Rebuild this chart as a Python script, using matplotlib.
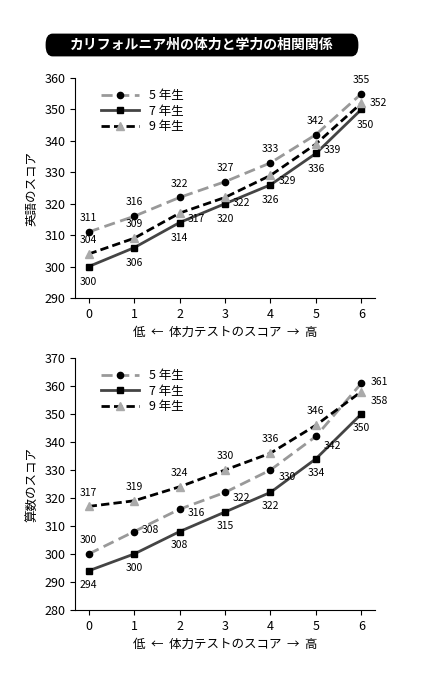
import matplotlib
matplotlib.use("Agg")
import matplotlib.pyplot as plt
from matplotlib.patches import FancyBboxPatch

plt.rcParams['font.family'] = ['Noto Sans CJK JP', 'DejaVu Sans']

x = [0, 1, 2, 3, 4, 5, 6]
eng5 = [311, 316, 322, 327, 333, 342, 355]
eng7 = [300, 306, 314, 320, 326, 336, 350]
eng9 = [304, 309, 317, 322, 329, 339, 352]
math5 = [300, 308, 316, 322, 330, 342, 361]
math7 = [294, 300, 308, 315, 322, 334, 350]
math9 = [317, 319, 324, 330, 336, 346, 358]
labels = ["5 年生", "7 年生", "9 年生"]

W, H = 422, 675
fig = plt.figure(figsize=(W/100, H/100), dpi=100)

def ax_at(l, t, r, b):
    return fig.add_axes([l/W, 1-b/H, (r-l)/W, (b-t)/H])

styles = [
    dict(color='#999999', ls=(0, (4, 2)), lw=2, marker='o', mfc='black', mec='black', ms=4.5),
    dict(color='#444444', ls='-', lw=2, marker='s', mfc='black', mec='black', ms=4.5),
    dict(color='black', ls=(0, (3, 1.5)), lw=2, marker='^', mfc='#aaaaaa', mec='#aaaaaa', ms=5.5),
]

def draw(ax, data, ylim, ylabel, offs):
    for d, st, lab, off in zip(data, styles, labels, offs):
        ax.plot(x, d, label=lab, **st)
        for xi, v, o in zip(x, d, off):
            ax.annotate(str(v), (xi, v), xytext=o, textcoords='offset points',
                        ha='center', va='center', fontsize=7.5)
    ax.set_xlim(-0.3, 6.3)
    ax.set_ylim(*ylim)
    ax.set_yticks(range(ylim[0], ylim[1]+1, 10))
    ax.set_xticks(x)
    ax.tick_params(labelsize=9)
    for s in ['top', 'right']:
        ax.spines[s].set_visible(False)
    ax.set_ylabel(ylabel, fontsize=9)
    ax.set_xlabel("低  ←  体力テストのスコア  →  高", fontsize=9)
    ax.legend(loc='upper left', bbox_to_anchor=(0.05, 1.0), frameon=False,
              fontsize=9, handlelength=3, labelspacing=0.2)

R = (12, -4)
ax1 = ax_at(75, 78, 375, 298)
draw(ax1, [eng5, eng7, eng9], (290, 360), "英語のスコア",
     [[(0, 10)]*7,
      [(0, -11)]*5 + [(0, -11), (3, -11)],
      [(0, 10), (0, 10), R, R, R, R, (12, 0)]])
ax2 = ax_at(75, 358, 375, 610)
draw(ax2, [math5, math7, math9], (280, 370), "算数のスコア",
     [[(0, 10), (12, 1), (12, -3), (12, -4), (12, -5), (12, -7), (13, 1)],
      [(0, -10)]*7,
      [(0, 10)]*6 + [(13, -7)]])

fig.patches.append(FancyBboxPatch((48/W, 1-53/H), 308/W, 16/H,
                                  boxstyle="round,pad=0.004,rounding_size=0.015",
                                  transform=fig.transFigure, fc='black', ec='black'))
fig.text(202/W, 1-45/H, "カリフォルニア州の体力と学力の相関関係", color='white',
         ha='center', va='center', fontsize=10, fontweight='bold')
fig.savefig("out.png", dpi=100)
